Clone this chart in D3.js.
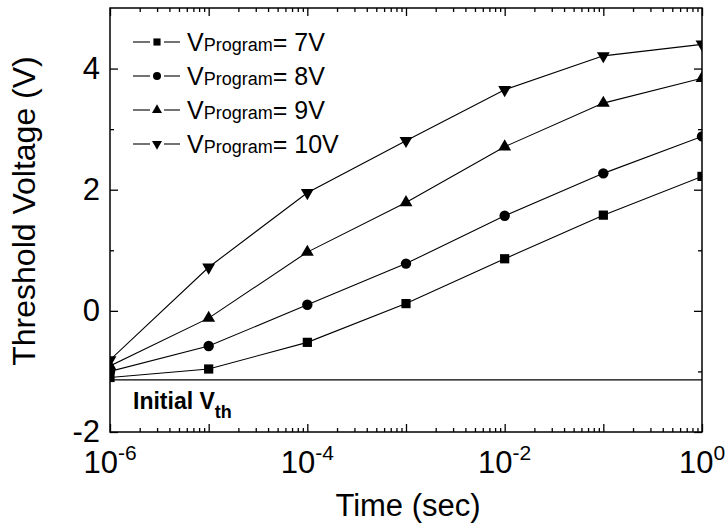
<!DOCTYPE html>
<html>
<head>
<meta charset="utf-8">
<script src="https://cdn.jsdelivr.net/npm/d3@7"></script>
<style>
  body { margin: 0; background: #fff; }
  svg { font-family: Arial, "Liberation Sans", sans-serif; }
</style>
</head>
<body>
<div id="chart"></div>
<script>
// data
const times = [1e-6, 1e-5, 1e-4, 1e-3, 1e-2, 1e-1, 1];
const vt7 = [-1.10, -0.96, -0.52, 0.12, 0.86, 1.58, 2.22];
const vt8 = [-1.00, -0.58, 0.10, 0.78, 1.57, 2.27, 2.88];
const vt9 = [-0.91, -0.12, 0.97, 1.79, 2.71, 3.43, 3.84];
const vt10 = [-0.81, 0.72, 1.95, 2.81, 3.65, 4.21, 4.40];
const programVoltages = ["7V", "8V", "9V", "10V"];
const initialVth = -1.14;
const yTicks = [-2, 0, 2, 4];
const yMinorTicks = [-1, 1, 3];
const xLabelExps = [-6, -4, -2, 0];

// set margins and dimensions
let margin = { top: 8, right: 26, bottom: 97, left: 110 };
let width = 728 - margin.left - margin.right;
let height = 529 - margin.top - margin.bottom;

let svg = d3.select("#chart")
    .append("svg")
    .attr("width", 728)
    .attr("height", 529)
    .append("g")
    .attr("transform", "translate(" + margin.left + "," + margin.top + ")");

const x = d3.scaleLog().domain([1e-6, 1]).range([0, width]);
const y = d3.scaleLinear().domain([-2, 5]).range([height, 0]);

// minor log ticks
let decades = d3.range(-6, 0);
let xMinor = [];
decades.forEach(function (e) {
    for (let k = 2; k <= 9; k++) xMinor.push(k * Math.pow(10, e));
});
let xMajor = d3.range(-6, 1).map(e => Math.pow(10, e));

function styleAxis(g) {
    g.select(".domain").remove();
    g.selectAll("line").attr("stroke", "#000").attr("stroke-width", 1.3);
}

// bottom axis
svg.append("g")
    .attr("transform", "translate(0," + height + ")")
    .call(d3.axisBottom(x).tickValues(xMajor).tickSize(-8).tickFormat(""))
    .call(styleAxis);
svg.append("g")
    .attr("transform", "translate(0," + height + ")")
    .call(d3.axisBottom(x).tickValues(xMinor).tickSize(-4).tickFormat(""))
    .call(styleAxis);
// top axis
svg.append("g")
    .call(d3.axisTop(x).tickValues(xMajor).tickSize(-8).tickFormat(""))
    .call(styleAxis);
svg.append("g")
    .call(d3.axisTop(x).tickValues(xMinor).tickSize(-4).tickFormat(""))
    .call(styleAxis);

// x tick labels with superscripts
xLabelExps.forEach(function (e) {
    let t = svg.append("text")
        .attr("x", x(Math.pow(10, e)))
        .attr("y", height + 41)
        .attr("text-anchor", "middle")
        .style("font-size", "31px");
    t.append("tspan").text("10");
    t.append("tspan")
        .attr("dy", -13)
        .style("font-size", "21px")
        .text(e === 0 ? "0" : "-" + Math.abs(e));
});

// left axis
svg.append("g")
    .call(d3.axisLeft(y).tickValues(yTicks).tickSize(-8).tickPadding(10).tickFormat(d => String(d)))
    .call(styleAxis)
    .selectAll("text")
    .style("font-size", "31px")
    .attr("fill", "#000");
svg.append("g")
    .call(d3.axisLeft(y).tickValues(yMinorTicks).tickSize(-4).tickFormat(""))
    .call(styleAxis);
// right axis
svg.append("g")
    .attr("transform", "translate(" + width + ",0)")
    .call(d3.axisRight(y).tickValues(yTicks).tickSize(-8).tickFormat(""))
    .call(styleAxis);
svg.append("g")
    .attr("transform", "translate(" + width + ",0)")
    .call(d3.axisRight(y).tickValues(yMinorTicks).tickSize(-4).tickFormat(""))
    .call(styleAxis);

// axis titles
svg.append("text")
    .attr("x", width / 2 + 2)
    .attr("y", height + 84)
    .attr("text-anchor", "middle")
    .style("font-size", "31px")
    .text("Time (sec)");
svg.append("text")
    .attr("transform", "translate(" + (-75) + "," + (height / 2 - 9) + ") rotate(-90)")
    .attr("text-anchor", "middle")
    .style("font-size", "32px")
    .text("Threshold Voltage (V)");

// clip for the data
svg.append("clipPath")
    .attr("id", "plotClip")
    .append("rect")
    .attr("width", width)
    .attr("height", height);
let plot = svg.append("g").attr("clip-path", "url(#plotClip)");

// initial Vth line
plot.append("line")
    .attr("x1", 0)
    .attr("x2", width)
    .attr("y1", y(initialVth))
    .attr("y2", y(initialVth))
    .attr("stroke", "#000")
    .attr("stroke-width", 1.2);

let initText = svg.append("text")
    .attr("x", 23)
    .attr("y", y(initialVth) + 29)
    .style("font-size", "23px")
    .style("font-weight", "bold");
initText.append("tspan").text("Initial V");
initText.append("tspan").attr("dy", 9).style("font-size", "18px").text("th");

// series
const series = [
    { values: vt7, symbol: d3.symbolSquare, size: 85, rot: 0 },
    { values: vt8, symbol: d3.symbolCircle, size: 85, rot: 0 },
    { values: vt9, symbol: d3.symbolTriangle, size: 72, rot: 0 },
    { values: vt10, symbol: d3.symbolTriangle, size: 72, rot: 180 }
];

const line = d3.line()
    .x(d => x(d[0]))
    .y(d => y(d[1]));

series.forEach(function (s) {
    let pts = times.map((t, i) => [t, s.values[i]]);
    plot.append("path")
        .datum(pts)
        .attr("d", line)
        .attr("fill", "none")
        .attr("stroke", "#000")
        .attr("stroke-width", 1.1);
    plot.selectAll(null)
        .data(pts)
        .join("path")
        .attr("d", d3.symbol().type(s.symbol).size(s.size))
        .attr("transform", d => "translate(" + x(d[0]) + "," + y(d[1]) + ") rotate(" + s.rot + ")")
        .attr("fill", "#000");
});

// legend
let legend = svg.append("g").attr("transform", "translate(23,34)");
series.forEach(function (s, i) {
    let row = legend.append("g").attr("transform", "translate(0," + (i * 34) + ")");
    row.append("line")
        .attr("x1", 0).attr("x2", 17)
        .attr("y1", 0).attr("y2", 0)
        .attr("stroke", "#000")
        .attr("stroke-width", 1.1);
    row.append("line")
        .attr("x1", 31).attr("x2", 47)
        .attr("y1", 0).attr("y2", 0)
        .attr("stroke", "#000")
        .attr("stroke-width", 1.1);
    row.append("path")
        .attr("d", d3.symbol().type(s.symbol).size(s.size * 0.6))
        .attr("transform", "translate(24,0) rotate(" + s.rot + ")")
        .attr("fill", "#000");
    let t = row.append("text")
        .attr("x", 54)
        .attr("y", 9)
        .style("font-size", "25px");
    t.append("tspan").text("V");
    t.append("tspan").style("font-size", "18px").text("Program");
    t.append("tspan").text("= " + programVoltages[i]);
});

// frame
svg.append("rect")
    .attr("width", width)
    .attr("height", height)
    .attr("fill", "none")
    .attr("stroke", "#000")
    .attr("stroke-width", 1.5);
</script>
</body>
</html>
